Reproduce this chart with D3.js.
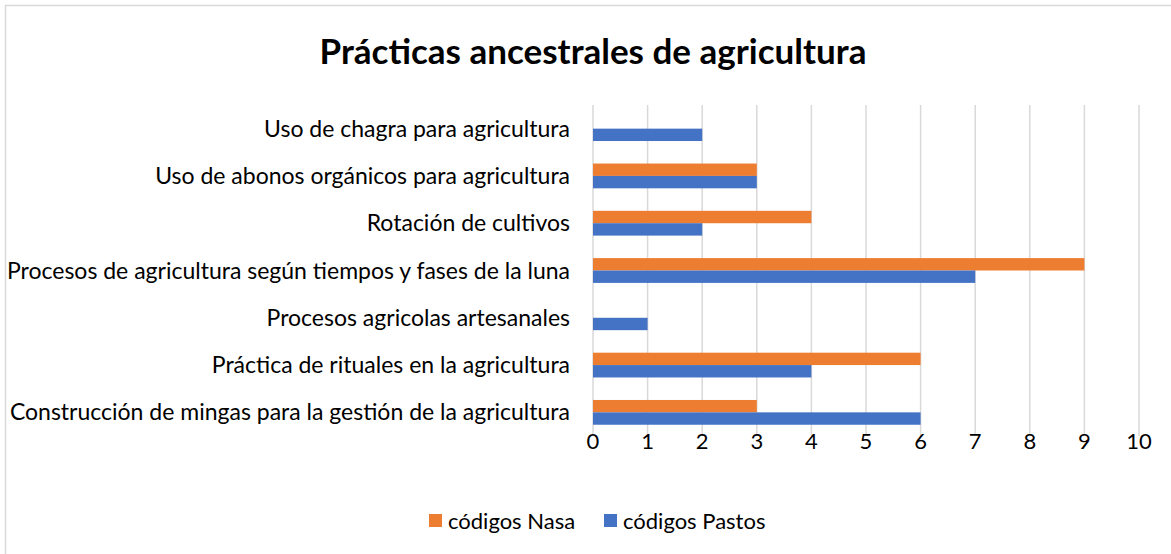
<!DOCTYPE html>
<html>
<head>
    <meta charset="utf-8">
    <title>Prácticas ancestrales de agricultura</title>
    <script src="https://d3js.org/d3.v7.min.js"></script>
    <style>
        body { margin: 0; background: #fff; }
        .grid line { stroke: #d9d9d9; stroke-width: 1.5; }
        .cat-label { font-family: Lato, "Noto Sans", sans-serif; font-size: 23px; fill: #000; }
        .tick-label, .legend-label { font-family: Lato, "Noto Sans", sans-serif; font-size: 22px; fill: #000; }
        .chart-title { font-family: Lato, "Noto Sans", sans-serif; font-size: 35px; font-weight: bold; fill: #000; text-anchor: middle; }
    </style>
</head>
<body>
<div id="chart"></div>
<script>
    // categorias (de arriba hacia abajo)
    const categories = [
        "Uso de chagra para agricultura",
        "Uso de abonos orgánicos para agricultura",
        "Rotación de cultivos",
        "Procesos de agricultura según tiempos y fases de la luna",
        "Procesos agricolas artesanales",
        "Práctica de rituales en la agricultura",
        "Construcción de mingas para la gestión de la agricultura"
    ];
    const seriesNames = ["códigos Nasa", "códigos Pastos"];
    const nasa = [0, 3, 4, 9, 0, 6, 3];
    const pastos = [2, 3, 2, 7, 1, 4, 6];
    const xTicks = [0, 1, 2, 3, 4, 5, 6, 7, 8, 9, 10];
    const colors = ["#ED7D31", "#4472C4"];

    const W = 1171, H = 554;
    const plot = { left: 593, right: 1139, top: 105, bottom: 436 };

    const svg = d3.select("#chart").append("svg")
        .attr("width", W)
        .attr("height", H);

    // borde del area del grafico
    svg.append("rect")
        .attr("x", 5.5).attr("y", 5.5)
        .attr("width", W).attr("height", H)
        .attr("fill", "#fff")
        .attr("stroke", "#d9d9d9")
        .attr("stroke-width", 1.5);

    const x = d3.scaleLinear().domain([0, 10]).range([plot.left, plot.right]);

    const y = d3.scaleBand()
        .domain(categories)
        .range([plot.top, plot.bottom])
        .paddingInner(0.476)
        .paddingOuter(0.238);

    const ySub = d3.scaleBand()
        .domain(seriesNames)
        .range([0, y.bandwidth()]);

    // lineas de cuadricula
    svg.append("g").attr("class", "grid")
        .selectAll("line")
        .data(xTicks)
        .join("line")
        .attr("x1", d => x(d)).attr("x2", d => x(d))
        .attr("y1", plot.top).attr("y2", plot.bottom);

    // etiquetas del eje x
    svg.append("g")
        .selectAll("text")
        .data(xTicks)
        .join("text")
        .attr("class", "tick-label")
        .attr("x", d => x(d))
        .attr("y", 449)
        .attr("text-anchor", "middle")
        .text(d => d);

    // etiquetas de categorias
    svg.append("g")
        .selectAll("text")
        .data(categories)
        .join("text")
        .attr("class", "cat-label")
        .attr("x", 570)
        .attr("y", d => y(d) + y.bandwidth() / 2)
        .attr("dy", "0.35em")
        .attr("text-anchor", "end")
        .text(d => d);

    // barras
    const rows = categories.map((c, i) => ({ cat: c, values: [nasa[i], pastos[i]] }));
    const groups = svg.append("g")
        .selectAll("g")
        .data(rows)
        .join("g")
        .attr("transform", d => `translate(0,${y(d.cat)})`);

    groups.selectAll("rect")
        .data(d => d.values.map((v, j) => ({ name: seriesNames[j], value: v, j: j })))
        .join("rect")
        .attr("x", x(0))
        .attr("y", d => ySub(d.name))
        .attr("width", d => x(d.value) - x(0))
        .attr("height", ySub.bandwidth())
        .attr("fill", d => colors[d.j]);

    // titulo
    svg.append("text")
        .attr("class", "chart-title")
        .attr("x", 593)
        .attr("y", 64)
        .text("Prácticas ancestrales de agricultura");

    // leyenda
    const legendX = [429, 604];
    const legend = svg.append("g")
        .selectAll("g")
        .data(seriesNames)
        .join("g")
        .attr("transform", (d, i) => `translate(${legendX[i]},514)`);

    legend.append("rect")
        .attr("width", 13).attr("height", 13)
        .attr("fill", (d, i) => colors[i]);

    legend.append("text")
        .attr("class", "legend-label")
        .attr("x", 19)
        .attr("y", 7)
        .attr("dy", "0.35em")
        .text(d => d);
</script>
</body>
</html>
